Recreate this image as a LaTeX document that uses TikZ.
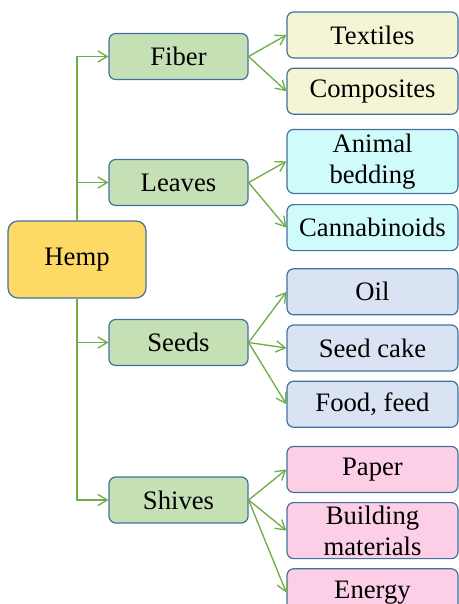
\documentclass[tikz,border=0pt]{standalone}
\usepackage{fontspec}
\setmainfont{Liberation Serif}
\usepackage{xcolor}
\usetikzlibrary{arrows.meta, positioning}

\definecolor{borda}{HTML}{41719C}
\definecolor{laranja}{HTML}{FFD966}
\definecolor{verde}{HTML}{C5E0B4}
\definecolor{verdeseta}{HTML}{70AD47}
\definecolor{amarelo}{HTML}{F5F5D5}
\definecolor{ciano}{HTML}{D0FBFB}
\definecolor{azul}{HTML}{DAE3F3}
\definecolor{rosa}{HTML}{FCCFE6}

\begin{document}
\begin{tikzpicture}[
    x=0.75pt, y=-0.75pt,
    >={Straight Barb[length=7pt,width=8.5pt]},
    caixa/.style={
        rectangle,
        rounded corners=5pt,
        draw=borda,
        line width=0.9pt,
        align=center,
        inner sep=0pt,
        font=\rmfamily\fontsize{20}{23.25}\selectfont
    },
    raiz/.style={caixa, rounded corners=7.5pt, fill=laranja,
        minimum width=103.5pt, minimum height=57.75pt},
    ramo/.style={caixa, fill=verde, minimum width=104.25pt, minimum height=34.5pt},
    uso/.style={caixa, minimum width=128.25pt, minimum height=34.5pt},
    seta/.style={->, draw=verdeseta, line width=1pt}
]
\useasboundingbox (0,0) rectangle (459,604);

\node[raiz] (hemp) at (77,259.5) {Hemp};

\node[ramo] (fiber) at (178.5,56.5) {Fiber};
\node[ramo] (leaves) at (178.5,182.5) {Leaves};
\node[ramo] (seeds) at (178.5,342.5) {Seeds};
\node[ramo] (shives) at (178.5,500) {Shives};

\node[uso, fill=amarelo] (textiles) at (372.5,35) {Textiles};
\node[uso, fill=amarelo, below=6.75pt of textiles] (composites) {Composites};

\node[uso, fill=ciano, minimum height=48pt, below=10.5pt of composites] (bedding) {Animal\\bedding};
\node[uso, fill=ciano, below=7.5pt of bedding] (cannab) {Cannabinoids};

\node[uso, fill=azul, below=12.75pt of cannab] (oil) {Oil};
\node[uso, fill=azul, below=6.75pt of oil] (cake) {Seed cake};
\node[uso, fill=azul, below=6.75pt of cake] (food) {Food, feed};

\node[uso, fill=rosa, below=13.5pt of food] (paper) {Paper};
\node[uso, fill=rosa, minimum height=42pt, below=6.75pt of paper] (building) {Building\\materials};
\node[uso, fill=rosa, minimum height=36pt, below=6.75pt of building] (energy) {Energy};

% tronco
\draw[seta] (hemp.north) |- (fiber);
\draw[seta] (hemp.north) |- (leaves);
\draw[seta] (hemp.south) |- (seeds);
\draw[seta] (hemp.south) |- (shives);

% leques
\draw[seta] (fiber.east) -- (textiles.west);
\draw[seta] (fiber.east) -- (composites.west);
\draw[seta] (leaves.east) -- (bedding.west);
\draw[seta] (leaves.east) -- (cannab.west);
\draw[seta] (seeds.east) -- (oil.west);
\draw[seta] (seeds.east) -- (cake.west);
\draw[seta] (seeds.east) -- (food.west);
\draw[seta] (shives.east) -- (paper.west);
\draw[seta] (shives.east) -- (building.west);
\draw[seta] (shives.east) -- (energy.west);

\end{tikzpicture}
\end{document}
